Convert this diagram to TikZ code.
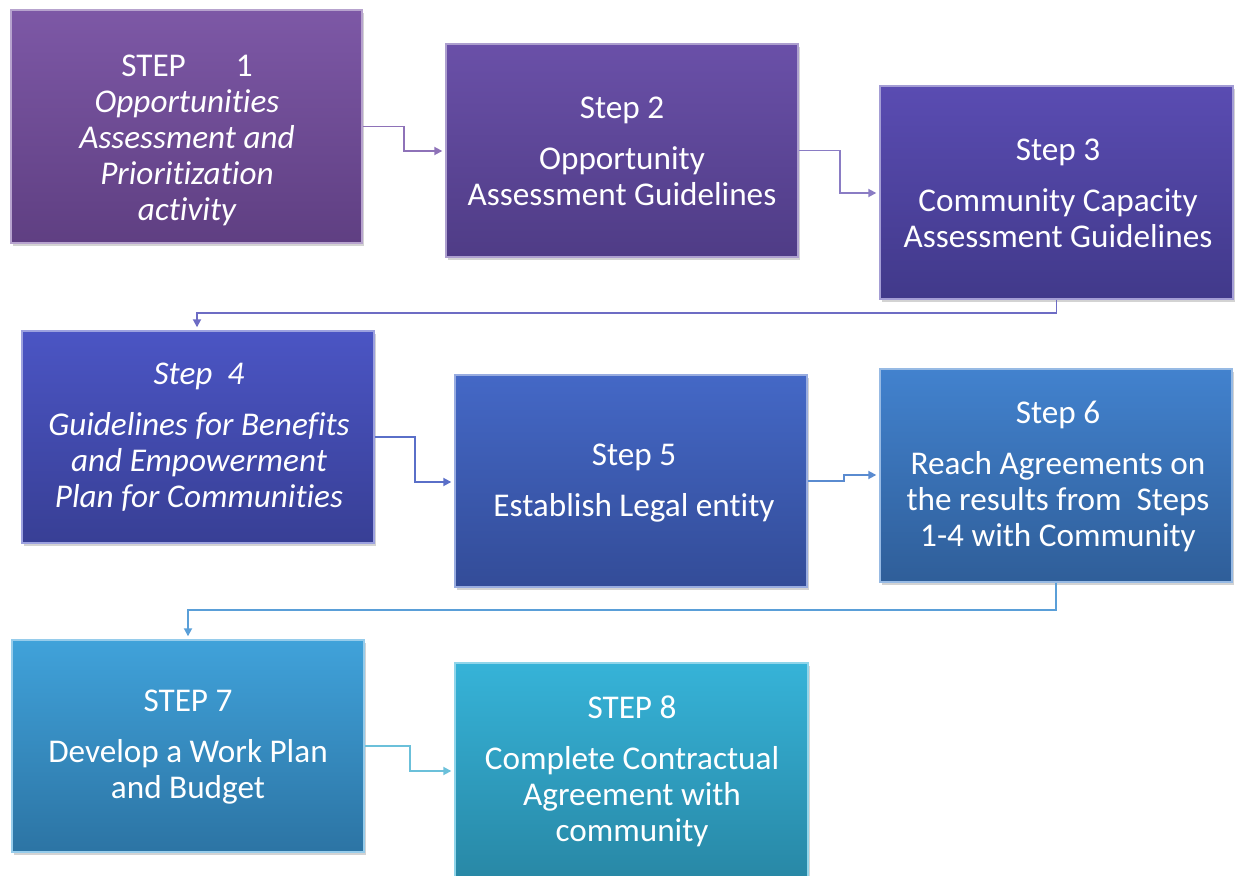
\documentclass[tikz,border=0pt]{standalone}
\usepackage{fontspec}
\setmainfont{Carlito}[Ligatures=NoCommon]
\usetikzlibrary{arrows.meta,shadows}
\definecolor{c1t}{HTML}{7D58A6}\definecolor{c1b}{HTML}{5F3F82}
\definecolor{c2t}{HTML}{6A50A8}\definecolor{c2b}{HTML}{4F3C86}
\definecolor{c3t}{HTML}{5A4CB2}\definecolor{c3b}{HTML}{41398A}
\definecolor{c4t}{HTML}{4B55C4}\definecolor{c4b}{HTML}{383F95}
\definecolor{c5t}{HTML}{4468C6}\definecolor{c5b}{HTML}{334C98}
\definecolor{c6t}{HTML}{4282CE}\definecolor{c6b}{HTML}{2F5E99}
\definecolor{c7t}{HTML}{40A2DA}\definecolor{c7b}{HTML}{2C74A4}
\definecolor{c8t}{HTML}{36B3D8}\definecolor{c8b}{HTML}{2888A6}
\definecolor{a1}{HTML}{8E72B8}\definecolor{a2}{HTML}{8A7CC4}
\definecolor{a3}{HTML}{6D6CC4}\definecolor{a4}{HTML}{5A6FC8}
\definecolor{a5}{HTML}{5A8BD0}\definecolor{a6}{HTML}{5A9FD8}
\definecolor{a7}{HTML}{6BC0DA}
\begin{document}
\begin{tikzpicture}[x=0.5pt,y=-0.5pt,
  stepbox/.style n args={2}{rectangle, inner sep=0pt, top color=#1, bottom color=#2,
     draw=#1!55!white, line width=0.7pt,
     drop shadow={shadow xshift=1.2pt,shadow yshift=-1.5pt,opacity=0.35}},
  txt/.style={text=white, align=center, font=\fontsize{16.6}{18}\selectfont, inner sep=0pt},
  conn/.style={line width=0.9pt, draw=#1, -{Triangle[width=4pt,length=4pt]}, shorten >=1.5pt}
]
\useasboundingbox (0,0) rectangle (1235,876);
% boxes
\node[stepbox={c1t}{c1b}, minimum width=175.5pt, minimum height=116.5pt] (b1) at (186.5,126.5) {};
\node[stepbox={c2t}{c2b}, minimum width=176pt, minimum height=106.5pt] (b2) at (622,150.5) {};
\node[stepbox={c3t}{c3b}, minimum width=176.5pt, minimum height=106.5pt] (b3) at (1056.5,192.5) {};
\node[stepbox={c4t}{c4b}, minimum width=176pt, minimum height=106pt] (b4) at (198,437) {};
\node[stepbox={c5t}{c5b}, minimum width=176pt, minimum height=106pt] (b5) at (631,481) {};
\node[stepbox={c6t}{c6b}, minimum width=176pt, minimum height=106.5pt] (b6) at (1056,475.5) {};
\node[stepbox={c7t}{c7b}, minimum width=176pt, minimum height=106pt] (b7) at (188,746) {};
\node[stepbox={c8t}{c8b}, minimum width=176.5pt, minimum height=107pt] (b8) at (631.5,770) {};
% texts
\node[txt] (t1) at (187,140) {STEP\hspace{25pt}1\\\itshape Opportunities\\\itshape Assessment and\\\itshape Prioritization\\\itshape activity};
\node[txt] (t2) at (622,151) {Step 2\\[7.5pt]Opportunity\\Assessment Guidelines};
\node[txt] (t3) at (1058,193.5) {Step 3\\[7.5pt]Community Capacity\\Assessment Guidelines};
\node[txt, font=\fontsize{16.6}{18}\selectfont\itshape] (t4) at (199,437.5) {Step\ \ 4\\[7.5pt]Guidelines for Benefits\\and Empowerment\\Plan for Communities};
\node[txt] (t5) at (634,483) {Step 5\\[7.5pt]Establish Legal entity};
\node[txt] (t6) at (1058,476.5) {Step 6\\[7.5pt]Reach Agreements on\\the results from\ \ Steps\\1-4 with Community};
\node[txt] (t7) at (188,747) {STEP 7\\[7.5pt]Develop a Work Plan\\and Budget};
\node[txt] (t8) at (632,771) {STEP 8\\[7.5pt]Complete Contractual\\Agreement with\\community};
% connector elbows
\coordinate (k1) at (404,151);
\coordinate (k2) at (840,193);
\coordinate (k3) at (197,313);
\coordinate (k4) at (415,482);
\coordinate (k5) at (844,475);
\coordinate (k6) at (188,610);
\coordinate (k7) at (410,771);
\draw[conn=a1] (b1.east) -| (k1) -- (k1 -| b2.west);
\draw[conn=a2] (b2.east) -| (k2) -- (k2 -| b3.west);
\draw[conn=a3] (b3.south) |- (k3) -- (k3 |- b4.north);
\draw[conn=a4] (b4.east) -| (k4) -- (k4 -| b5.west);
\draw[conn=a5] (b5.east) -| (k5) -- (k5 -| b6.west);
\draw[conn=a6] (b6.south) |- (k6) -- (k6 |- b7.north);
\draw[conn=a7] (b7.east) -| (k7) -- (k7 -| b8.west);
\end{tikzpicture}
\end{document}
